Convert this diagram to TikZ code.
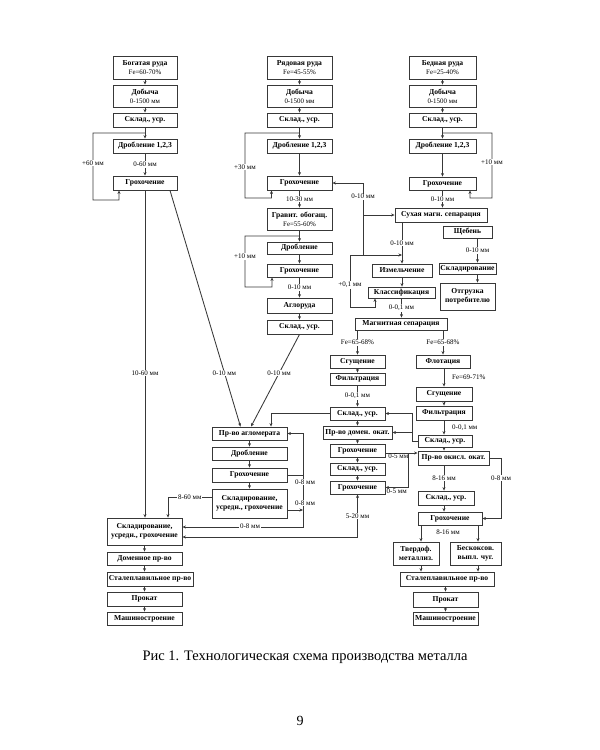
\documentclass[tikz,border=0pt]{standalone}
\usepackage{fontspec}
\setmainfont{Liberation Serif}
\usetikzlibrary{arrows.meta,calc}
\newcommand\subt{\fontsize{6.9}{8}\selectfont\mdseries}
\newcommand\mybox[6]{\node[box,minimum width={#3-#2},minimum height={#5-#4}] (#1) at ({(#2+#3)/2},{(#4+#5)/2}) {#6};}
\begin{document}
\begin{tikzpicture}[x=1pt,y=-1pt,
  box/.style={draw=black!78, line width=0.85pt, inner sep=0pt, align=center, font=\fontsize{7.6}{9}\selectfont\bfseries},
  lab/.style={fill=white, inner sep=0.8pt, font=\fontsize{7}{8}\selectfont},
  lab0/.style={inner sep=0.8pt, font=\fontsize{7}{8}\selectfont},
  ln/.style={draw=black!78, line width=0.85pt},
  arr/.style={ln, -{Stealth[length=3.5pt,width=3pt]}},
  rarr/.style={ln, {Stealth[length=3.5pt,width=3pt]}-},
  barr/.style={ln, {Stealth[length=3.5pt,width=3pt]}-{Stealth[length=3.5pt,width=3pt]}},
]
\useasboundingbox (0,0) rectangle (600,750);
% ---- column 1
\mybox{A1}{113}{177}{56}{79}{Богатая руда\\ \subt Fe=60-70\%}
\mybox{A2}{113}{177}{85}{107}{Добыча\\ \subt 0-1500 мм}
\mybox{A3}{113}{177}{113}{127}{Склад., уср.}
\mybox{A4}{113}{177}{139}{153}{Дробление 1,2,3}
\mybox{A5}{113}{177}{176}{190}{Грохочение}
% ---- column 2
\mybox{B1}{267}{332}{56}{79}{Рядовая руда\\ \subt Fe=45-55\%}
\mybox{B2}{267}{332}{85}{107}{Добыча\\ \subt 0-1500 мм}
\mybox{B3}{267}{332}{113}{127}{Склад., уср.}
\mybox{B4}{267}{332}{139}{153}{Дробление 1,2,3}
\mybox{B5}{267}{332}{176}{190}{Грохочение}
\mybox{B6}{267}{332}{208}{230}{Гравит. обогащ.\\ \subt Fe=55-60\%}
\mybox{B7}{267}{332}{242}{254}{Дробление}
\mybox{B8}{267}{332}{264}{277}{Грохочение}
\mybox{B9}{267}{332}{298}{313}{Аглоруда}
\mybox{B10}{267}{332}{320}{334}{Склад., уср.}
% ---- column 3
\mybox{C1}{409}{476}{56}{79}{Бедная руда\\ \subt Fe=25-40\%}
\mybox{C2}{409}{476}{85}{107}{Добыча\\ \subt 0-1500 мм}
\mybox{C3}{409}{476}{113}{127}{Склад., уср.}
\mybox{C4}{409}{476}{139}{153}{Дробление 1,2,3}
\mybox{C5}{409}{476}{177}{190}{Грохочение}
\mybox{C6}{395}{487}{208}{222}{Сухая магн. сепарация}
\mybox{C7}{443}{492}{226}{238}{Щебень}
\mybox{C8}{439}{496}{263}{274}{Складирование}
\mybox{C9}{440}{495}{283}{310}{Отгрузка\\потребителю}
\mybox{C10}{372}{432}{264}{277}{Измельчение}
\mybox{C11}{368}{435}{287}{298}{Классификация}
\mybox{C12}{355}{447}{318}{330}{Магнитная сепарация}
% ---- middle lower
\mybox{D1}{330}{385}{355}{368}{Сгущение}
\mybox{D2}{330}{385}{373}{385}{Фильтрация}
\mybox{D3}{330}{385}{407}{420}{Склад., уср.}
\mybox{D4}{323}{392}{426}{439}{Пр-во домен. окат.}
\mybox{D5}{330}{385}{444}{457}{Грохочение}
\mybox{D6}{330}{385}{463}{475}{Склад., уср.}
\mybox{D7}{330}{385}{481}{494}{Грохочение}
% ---- right lower
\mybox{E1}{416}{470}{355}{368}{Флотация}
\mybox{E2}{416}{472}{387}{401}{Сгущение}
\mybox{E3}{416}{472}{406}{420}{Фильтрация}
\mybox{E4}{418}{472}{435}{447}{Склад., уср.}
\mybox{E5}{418}{489}{451}{465}{Пр-во окисл. окат.}
\mybox{E6}{418}{474}{491}{505}{Склад., уср.}
\mybox{E7}{418}{482}{512}{525}{Грохочение}
\mybox{E8}{393}{439}{542}{565}{Твердоф.\\металлиз.}
\mybox{E9}{450}{501}{542}{565}{Бескоксов.\\выпл. чуг.}
\mybox{E10}{400}{494}{572}{586}{Сталеплавильное пр-во}
\mybox{E11}{413}{478}{592}{607}{Прокат}
\mybox{E12}{413}{478}{612}{625}{Машиностроение}
% ---- agglomeration
\mybox{F1}{212}{287}{427}{440}{Пр-во агломерата}
\mybox{F2}{212}{287}{447}{460}{Дробление}
\mybox{F3}{212}{287}{468}{482}{Грохочение}
\mybox{F4}{212}{287}{489}{518}{Складирование,\\усредн., грохочение}
% ---- column 1 bottom
\mybox{G1}{107}{182}{518}{545}{Складирование,\\усредн., грохочение}
\mybox{G2}{107}{182}{552}{565}{Доменное пр-во}
\mybox{G3}{107}{193}{572}{586}{Сталеплавильное пр-во}
\mybox{G4}{107}{182}{592}{606}{Прокат}
\mybox{G5}{107}{182}{612}{625}{Машиностроение}

% ---- helper coordinates
\coordinate (j1) at ($(A3.south)!0.5!(A4.north)$);
\coordinate (j2) at ($(B3.south)!0.5!(B4.north)$);
\coordinate (j3) at ($(B6.south)!0.5!(B7.north)$);
\coordinate (j7) at ($(C3.south)!0.5!(C4.north)$);
\coordinate (j4) at (363,215);
\coordinate (j5) at (363,255);
\coordinate (j6) at (402,255);
\coordinate (j8) at (412,432.5);
\coordinate (j9) at (408,453);
\coordinate (j10) at (303,475);
\coordinate (j11) at (303,510);
\coordinate (ex) at (444,0);
\coordinate (e8x) at (421,0);
\coordinate (e9x) at (478,0);
\coordinate (f1x) at (271,0);
\coordinate (gx) at (168,0);
\coordinate (c7x) at ([xshift=10pt]C7.south);
\coordinate (c8x) at ([xshift=10pt]C8.south);
\coordinate (d5e) at ([yshift=-2.5pt]D5.east);
\coordinate (g1a) at ([yshift=4.5pt]G1.east);
\coordinate (g1b) at ([yshift=-5.5pt]G1.east);
\coordinate (f4w) at ([yshift=6.5pt]F4.west);
\coordinate (f4e) at ([yshift=-6.5pt]F4.east);

% ---- column 1 connectors
\draw[arr] (A1) -- (A2);
\draw[arr] (A2) -- (A3);
\draw[arr] (A3) -- (A4);
\draw[arr] (A4) -- node[lab]{0-60 мм} (A5);
\draw[rarr] ([xshift=-26pt]A5.south) -- (119,200) -- (93,200) -- node[lab,pos=0.55]{+60 мм} (93,133) -- (j1);
\draw[arr] (A5.south) -- node[lab,pos=0.558]{10-60 мм} (A5.south |- G1.north);
\draw[arr] ([xshift=25pt]A5.south) -- node[lab,pos=0.772]{0-10 мм} ([xshift=-9pt]F1.north);
% ---- column 2 connectors
\draw[arr] (B1) -- (B2);
\draw[arr] (B2) -- (B3);
\draw[arr] (B3) -- (B4);
\draw[arr] (B4) -- (B5);
\draw[rarr] ([xshift=-28pt]B5.south) -- (271.5,198) -- (245,198) -- node[lab,pos=0.48]{+30 мм} (245,133) -- (j2);
\draw[arr] (B5) -- node[lab]{10-30 мм} (B6);
\draw[arr] (B6) -- (B7);
\draw[arr] (B7) -- (B8);
\draw[rarr] ([xshift=-27.5pt]B8.south) -- (272,287) -- (245,287) -- node[lab,pos=0.6]{+10 мм} (245,236) -- (j3);
\draw[arr] (B8) -- node[lab]{0-10 мм} (B9);
\draw[arr] (B9) -- (B10);
\draw[arr] (B10.south) -- node[lab,pos=0.42]{0-10 мм} ([xshift=1.5pt]F1.north);
\draw[rarr] (B5.east) -- (363,183) -- node[lab,pos=0.19]{0-10 мм} (j5);
\draw[arr] (j4) -- (C6.west);
\draw[rarr] ([xshift=-26.5pt]C11.south) -- (375,307) -- (350,307) -- node[lab,pos=0.42]{+0,1 мм} (350,255) -- (j5);
\draw[arr] (j5) -- (j6);
\draw[arr] (C6.south -| j6) -- node[lab]{0-10 мм} (C10.north -| j6);
\draw[arr] (C10.south) -- (C10.south |- C11.north);
\draw[arr] (C11.south) -- node[lab]{0-0,1 мм} (C11.south |- C12.north);
% ---- column 3 connectors
\draw[arr] (C1) -- (C2);
\draw[arr] (C2) -- (C3);
\draw[arr] (C3) -- (C4);
\draw[arr] (C4) -- (C5);
\draw[rarr] ([xshift=27.5pt]C5.south) -- (470,198) -- (492,198) -- node[lab,pos=0.55]{+10 мм} (492,133) -- (j7);
\draw[arr] (C5.south) -- node[lab]{0-10 мм} (C5.south |- C6.north);
\draw[arr] (c7x) -- node[lab]{0-10 мм} (c7x |- C8.north);
\draw[arr] (c8x) -- (c8x |- C9.north);
% ---- magnetic separation outputs
\draw[arr] (C12.south -| D1) -- node[lab]{Fe=65-68\%} (D1.north);
\draw[arr] (C12.south -| E1) -- node[lab]{Fe=65-68\%} (E1.north);
% ---- middle lower chain
\draw[arr] (D1) -- (D2);
\draw[arr] (D2) -- node[lab]{0-0,1 мм} (D3);
\draw[arr] (D3.west) -| (F1.north -| f1x);
\draw[arr] (D3) -- (D4);
\draw[arr] (D4) -- (D5);
\draw[arr] (D5) -- (D6);
\draw[arr] (D6) -- (D7);
\draw[arr] (E4.west) -- (412,441) -- (412,413.5) -- (D3.east);
\draw[arr] (j8) -- (D4.east);
\draw[arr] (d5e) -- node[lab0,below,pos=0.4]{0-5 мм} (d5e -| E5.west);
\draw[arr] (j9) -- (408,487.5) -- node[lab0,below]{0-5 мм} (D7.east);
\draw[barr] (D7.south) |- node[lab,pos=0.25]{5-20 мм} (g1b);
% ---- right lower chain
\draw[arr] (E1.south -| ex) -- node[lab0,right,xshift=7pt]{Fe=69-71\%} (E2.north -| ex);
\draw[arr] (E2.south -| ex) -- (E3.north -| ex);
\draw[arr] (E3.south -| ex) -- node[lab0,right,xshift=7pt]{0-0,1 мм} (E4.north -| ex);
\draw[arr] (E4.south -| ex) -- (E5.north -| ex);
\draw[arr] (E5.south -| ex) -- node[lab]{8-16 мм} (E6.north -| ex);
\draw[arr] (E6.south -| ex) -- (E7.north -| ex);
\draw[rarr] (E7.east) -- (501,518.5) -- node[lab,pos=0.67]{0-8 мм} (501,458) -- (E5.east);
\draw[arr] (E7.south -| e8x) -- (E8.north -| e8x);
\draw[arr] (E7.south -| e9x) -- (E9.north -| e9x);
\node[lab0] (l816) at (448,532) {8-16 мм};
\draw[arr] (E8.south -| e8x) -- (E10.north -| e8x);
\draw[arr] (E9.south -| e9x) -- (E10.north -| e9x);
\draw[arr] (E10.south -| E11) -- (E11.north);
\draw[arr] (E11) -- (E12);
% ---- agglomeration
\draw[arr] (F1) -- (F2);
\draw[arr] (F2) -- (F3);
\draw[arr] (F3) -- (F4);
\draw[ln] (F3.east) -- (j10);
\draw[barr] (F1.east) -- (303,433.5) -- (303,527) -- (g1a);
\draw[arr] (f4e) -- (j11);
\node[lab] (l08a) at (305,482) {0-8 мм};
\node[lab] (l08b) at (305,503) {0-8 мм};
\node[lab] (l08c) at (250,526.5) {0-8 мм};
\draw[arr] (f4w) -| node[lab,pos=0.25]{8-60 мм} (G1.north -| gx);
% ---- column 1 bottom
\draw[arr] (G1) -- (G2);
\draw[arr] (G2.south) -- (G2.south |- G3.north);
\draw[arr] (G3.south -| G4) -- (G4.north);
\draw[arr] (G4) -- (G5);
% ---- caption
\node[font=\fontsize{14.5}{16}\selectfont] (cap) at (305,657) {Рис 1. Технологическая схема производства металла};
\node[font=\fontsize{14}{16}\selectfont] (pg) at (300,721) {9};
\end{tikzpicture}
\end{document}
